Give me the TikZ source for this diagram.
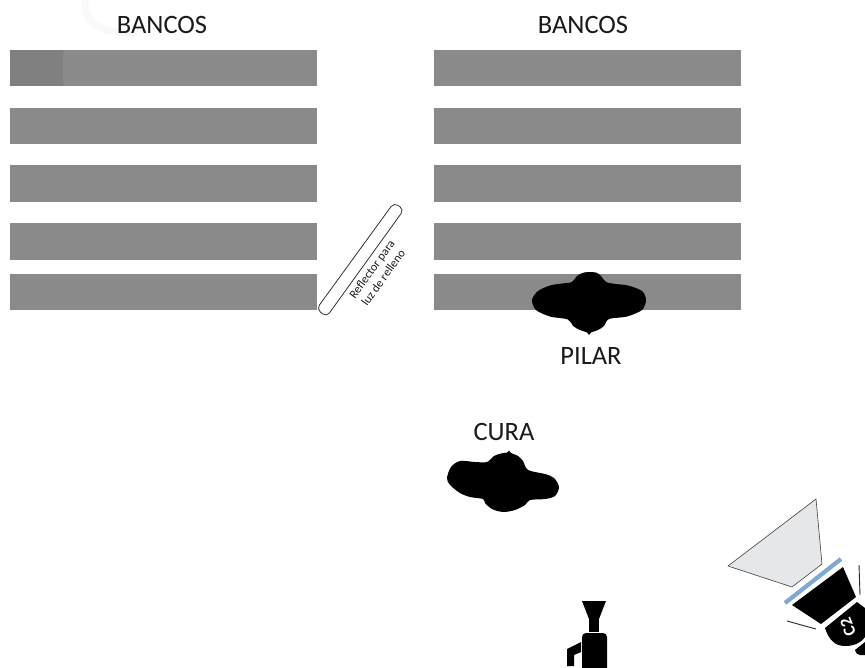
\documentclass[tikz,border=0pt]{standalone}
\usepackage{fontspec}
\setmainfont{Carlito}
\definecolor{bench}{HTML}{8A8A8B}
\definecolor{benchdark}{HTML}{808081}
\definecolor{conegray}{HTML}{E6E7E8}
\definecolor{gelblue}{HTML}{7FA9D4}
\definecolor{txt}{HTML}{1A1A1A}
\definecolor{ghostgray}{HTML}{F9F9F8}
\tikzset{
  benchbar/.style={fill=bench,draw=none},
  lab/.style={font=\fontsize{26.5}{28}\selectfont,text=txt,inner sep=0pt,anchor=center},
  small/.style={font=\fontsize{12}{14}\selectfont,text=txt,inner sep=0pt,align=center,rotate=54},
  blob/.style={fill=black,draw=none},
}
\begin{document}
\begin{tikzpicture}[x=1pt,y=-1pt]
\useasboundingbox (0,0) rectangle (865,667);
\fill[white] (0,0) rectangle (865,667);
% faint background mark
\draw[ghostgray,line width=7pt,line cap=round] (85,0) .. controls (84,22) and (95,32) .. (135,33);
% benches
\foreach \a/\b in {50/86,108/144,165/202,223/260,274/310}{
  \fill[benchbar] (10,\a) rectangle (317,\b);
  \fill[benchbar] (434,\a) rectangle (741,\b);
}
\fill[benchdark] (10,50) rectangle (63,86);
\node[lab] (bancosL) at (162,25) {BANCOS};
\node[lab] (bancosR) at (583,25) {BANCOS};
% reflector
\draw[black!80,line width=0.8pt,rounded corners=5pt,fill=white]
  (316.5,309) -- (394,202.5) -- (404,209.5) -- (326.5,317) -- cycle;
\node[small] (refl) at (377.5,273.5) {Reflector para\\luz de relleno};
% pilar
\fill[blob] plot[smooth cycle,tension=0.5] coordinates {
 (584,272.5) (577,276) (572,282) (562,283.5) (550,285.5) (538,291) (532,300) (536,310) (550,316.5) (568,319.5)
 (573,326) (580,330) (587,332.5) (589,335) (591,332.5) (598,330) (604,326) (609,319) (627,316.5) (642,310)
 (646,300) (642,291) (628,285.5) (616,284) (606,282) (601,276) (596,272.5)};
\node[lab] (pilar) at (591,356) {PILAR};
% cura
\fill[blob] plot[smooth cycle,tension=0.5] coordinates {
 (509,450.5) (511,453) (518,456) (523,461) (528,470) (545,474) (554,478) (559,487) (555,496)
 (545,499) (530,500) (525,505) (515,510) (503,512) (492,509) (485,503) (483,499)
 (470,497) (460,493) (450,485) (447,478) (451,467) (460,461) (475,462) (487,462)
 (494,456) (501,453.5) (507,452.5)};
\node[lab] (cura) at (504,432) {CURA};
% camera
\fill[black] (582,601) -- (606,601) -- (599,619) -- (589,619) -- cycle;
\fill[black] (589,619) rectangle (599,632);
\fill[black,rounded corners=4pt] (582,672) -- (582,633) -- (607,633) -- (607,672) -- cycle;
\fill[black] (567,649) -- (581,642) -- (581,652) -- (574,655) -- (574,666) -- (567,666) -- cycle;
% light
\draw[fill=conegray,draw=black!75,line width=0.6pt]
  (816,499) -- (822,564) -- (792,587) -- (728,566) -- cycle;
\draw[gelblue,line width=4.2pt] (785,603) -- (841,559);
\fill[black] (792,605) -- (843,567) -- (856,597) -- (821,624) -- cycle;
\fill[black] (825,628) -- (857,602) -- (865,608) -- (865,637)
  .. controls (860,644) and (853,646) .. (845,646)
  .. controls (835,646) and (829,640) .. cycle;
\fill[black] (855,650) -- (865,642) -- (865,655) -- (860,655) .. controls (857,655) and (855,652) .. cycle;
\draw[black!85,line width=0.9pt] (859,565) -- (860,595);
\draw[black!85,line width=0.9pt] (787,621) -- (816,629);
\node[font=\bfseries\fontsize{17}{17}\selectfont,text=white,inner sep=0pt,rotate=112] (ctwo) at (848,627) {C2};
\end{tikzpicture}
\end{document}
